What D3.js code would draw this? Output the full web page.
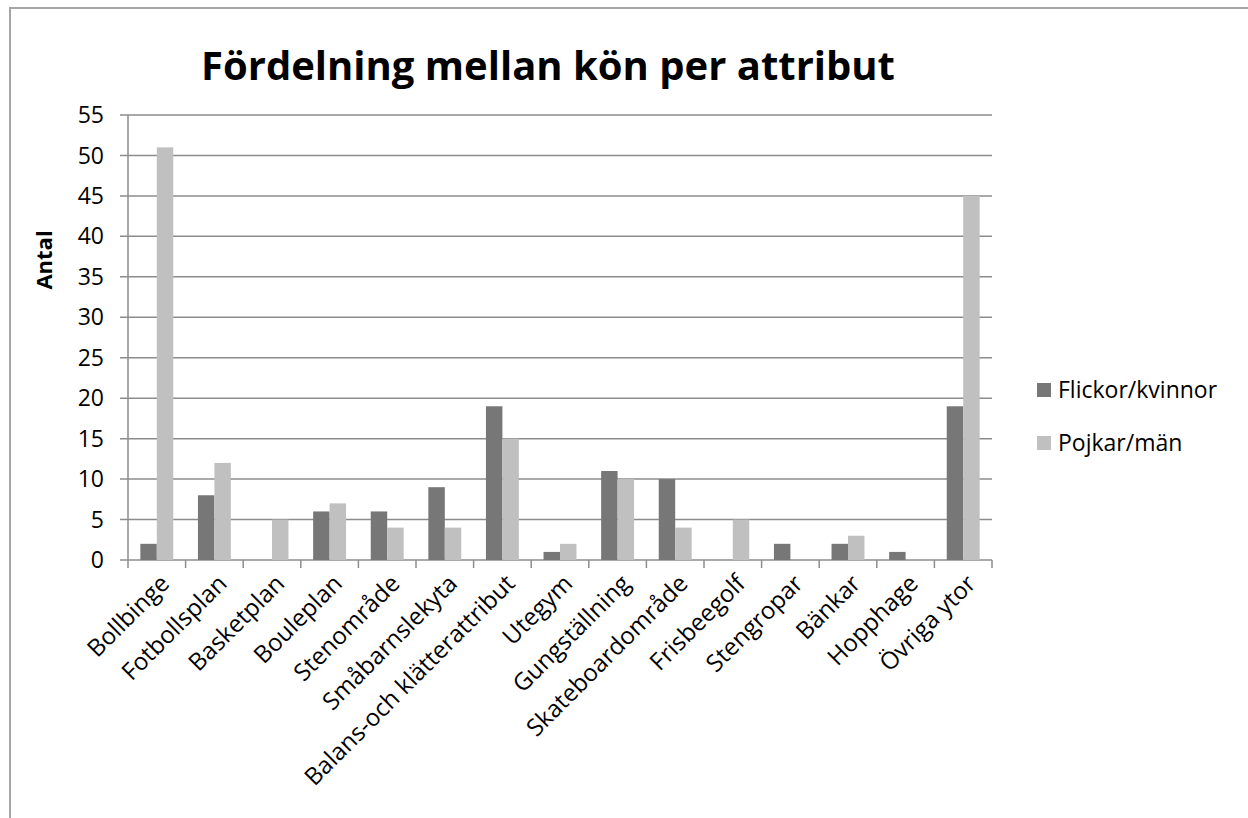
<!DOCTYPE html>
<html>
<head>
<meta charset="utf-8">
<script src="https://cdn.jsdelivr.net/npm/d3@7"></script>
<style>
  body { margin: 0; background: #fff; }
  svg { display: block; font-family: "Open Sans", sans-serif; }
</style>
</head>
<body>
<svg id="chart" width="1248" height="818"></svg>
<script>
var categories = ["Bollbinge", "Fotbollsplan", "Basketplan", "Bouleplan", "Stenområde",
    "Småbarnslekyta", "Balans-och klätterattribut", "Utegym", "Gungställning",
    "Skateboardområde", "Frisbeegolf", "Stengropar", "Bänkar", "Hopphage", "Övriga ytor"]
var seriesNames = ["Flickor/kvinnor", "Pojkar/män"]
var flickor = [2, 8, 0, 6, 6, 9, 19, 1, 11, 10, 0, 2, 2, 1, 19]
var pojkar = [51, 12, 5, 7, 4, 4, 15, 2, 10, 4, 5, 0, 3, 0, 45]
var yTicks = [0, 5, 10, 15, 20, 25, 30, 35, 40, 45, 50, 55]
var colors = ["#777777", "#c0c0c0"]

var svg = d3.select('#chart')
var pLeft = 128, pRight = 992, pTop = 115, pBottom = 560

// outer chart frame
svg.append('path')
    .attr('d', 'M10,818V8H1248')
    .attr('fill', 'none')
    .attr('stroke', '#a6a6a6')
    .attr('stroke-width', 2)

var x = d3.scaleBand().domain(categories).range([pLeft, pRight])
var x1 = d3.scaleBand().domain(seriesNames).range([0, x.bandwidth()]).paddingOuter(0.75)
var y = d3.scaleLinear().domain([0, 55]).range([pBottom, pTop])

var rows = categories.map((c, i) => ({ cat: c, vals: [flickor[i], pojkar[i]] }))

// grid
svg.append('g')
    .selectAll('line')
    .data(yTicks)
    .join('line')
    .attr('x1', pLeft - 8)
    .attr('x2', pRight)
    .attr('y1', d => y(d))
    .attr('y2', d => y(d))
    .attr('stroke', '#8c8c8c')
    .attr('stroke-width', 1.5)

// bars
svg.append('g')
    .selectAll('g')
    .data(rows)
    .join('g')
    .attr('transform', d => 'translate(' + x(d.cat) + ',0)')
    .selectAll('rect')
    .data(d => d.vals.map((v, j) => ({ s: seriesNames[j], v: v, j: j })))
    .join('rect')
    .attr('x', d => x1(d.s))
    .attr('width', x1.bandwidth())
    .attr('y', d => y(d.v))
    .attr('height', d => y(0) - y(d.v))
    .attr('fill', d => colors[d.j])

// y axis line
svg.append('line')
    .attr('x1', pLeft).attr('x2', pLeft)
    .attr('y1', pTop).attr('y2', pBottom)
    .attr('stroke', '#8c8c8c')
    .attr('stroke-width', 1.5)

// x axis ticks at category boundaries
var bounds = categories.map(c => x(c)).concat([pRight])
svg.append('g')
    .selectAll('line')
    .data(bounds)
    .join('line')
    .attr('x1', d => d).attr('x2', d => d)
    .attr('y1', pBottom).attr('y2', pBottom + 8)
    .attr('stroke', '#8c8c8c')
    .attr('stroke-width', 1.5)

// y labels
svg.append('g')
    .selectAll('text')
    .data(yTicks)
    .join('text')
    .attr('x', 104)
    .attr('y', d => y(d))
    .attr('dy', '0.35em')
    .attr('text-anchor', 'end')
    .attr('font-size', 23)
    .attr('fill', '#000')
    .text(d => d)

// x labels
svg.append('g')
    .selectAll('text')
    .data(categories)
    .join('text')
    .attr('text-anchor', 'end')
    .attr('font-size', 24)
    .attr('transform', d => 'translate(' + (x(d) + x.bandwidth() / 2 + 14) + ',' + (pBottom + 25) + ') rotate(-45)')
    .text(d => d)

// title
svg.append('text')
    .attr('x', 548)
    .attr('y', 80)
    .attr('text-anchor', 'middle')
    .attr('font-size', 40)
    .attr('font-weight', 'bold')
    .text('Fördelning mellan kön per attribut')

// axis title
svg.append('text')
    .attr('transform', 'translate(52,260) rotate(-90)')
    .attr('text-anchor', 'middle')
    .attr('font-size', 22)
    .attr('font-weight', 'bold')
    .text('Antal')

// legend
var leg = svg.append('g')
    .selectAll('g')
    .data(seriesNames)
    .join('g')
    .attr('transform', (d, i) => 'translate(1037,' + (383 + i * 53) + ')')
leg.append('rect')
    .attr('width', 14).attr('height', 14)
    .attr('fill', (d, i) => colors[i])
leg.append('text')
    .attr('x', 21)
    .attr('y', 7)
    .attr('dy', '0.35em')
    .attr('font-size', 23)
    .text(d => d)
</script>
</body>
</html>
